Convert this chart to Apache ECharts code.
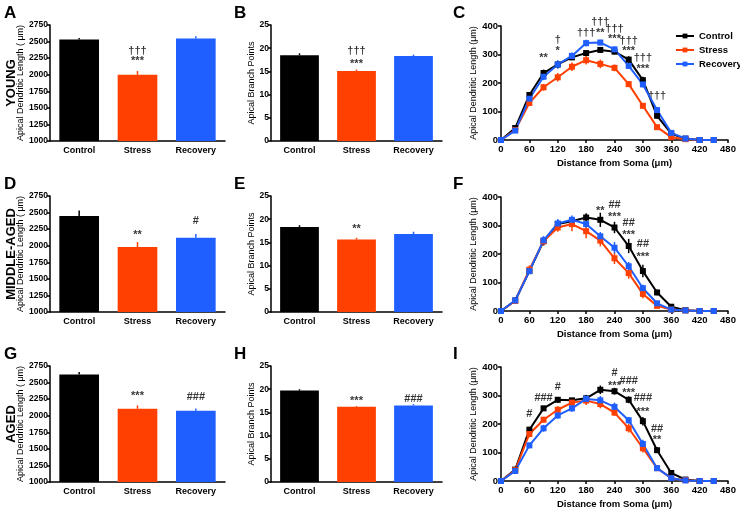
<!DOCTYPE html>
<html>
<head>
<meta charset="UTF-8">
<title>Apical dendritic length by age</title>
<script src="https://cdn.jsdelivr.net/npm/echarts@6/dist/echarts.min.js"></script>
<style>
  body { margin: 0; background: #fff; }
  #main { width: 740px; height: 510px; }
</style>
</head>
<body>
<div id="main"></div>
<script>
// ---- data ----
var barCats = ['Control', 'Stress', 'Recovery'];
var groupNames = ['Control', 'Stress', 'Recovery'];
var rowNames = ['YOUNG', 'MIDDLE-AGED', 'AGED'];

// total apical dendritic length (um)
var youngLen = [2530, 2000, 2545];
var youngLenErr = [25, 55, 35];
var middleLen = [2450, 1980, 2120];
var middleLenErr = [80, 75, 55];
var agedLen = [2620, 2105, 2075];
var agedLenErr = [40, 50, 35];

// apical branch points
var youngBranch = [18.5, 15.1, 18.3];
var youngBranchErr = [0.4, 0.3, 0.3];
var middleBranch = [18.3, 15.6, 16.8];
var middleBranchErr = [0.4, 0.4, 0.5];
var agedBranch = [19.7, 16.2, 16.5];
var agedBranchErr = [0.3, 0.2, 0.3];

// sholl profile, distance from soma (um)
var dist = [0, 30, 60, 90, 120, 150, 180, 210, 240, 270, 300, 330, 360, 390, 420, 450];

var youngCtrl = [0, 42, 158, 235, 265, 290, 305, 316, 310, 282, 210, 85, 22, 5, 0, 0];
var youngStress = [0, 35, 130, 185, 220, 257, 280, 267, 253, 196, 120, 45, 10, 3, 0, 0];
var youngRecov = [0, 33, 145, 222, 265, 295, 340, 342, 318, 260, 195, 105, 25, 5, 0, 0];
var youngCtrlErr = [0, 5, 10, 12, 12, 10, 10, 10, 10, 12, 12, 10, 5, 2, 0, 0];
var youngStressErr = [0, 4, 10, 12, 15, 15, 15, 15, 12, 10, 10, 6, 3, 2, 0, 0];
var youngRecovErr = [0, 4, 10, 12, 15, 12, 12, 10, 10, 10, 10, 10, 5, 2, 0, 0];

var middleCtrl = [0, 37, 140, 245, 305, 315, 328, 320, 293, 228, 140, 65, 15, 3, 0, 0];
var middleStress = [0, 35, 145, 245, 293, 305, 280, 247, 185, 133, 60, 18, 5, 2, 0, 0];
var middleRecov = [0, 37, 140, 248, 307, 320, 305, 262, 222, 157, 80, 27, 5, 2, 0, 0];
var middleCtrlErr = [0, 5, 10, 15, 15, 15, 15, 25, 20, 25, 22, 10, 5, 2, 0, 0];
var middleStressErr = [0, 5, 15, 15, 15, 25, 25, 20, 20, 20, 15, 8, 4, 2, 0, 0];
var middleRecovErr = [0, 5, 10, 15, 15, 15, 12, 15, 20, 15, 12, 8, 4, 2, 0, 0];

var agedCtrl = [0, 40, 180, 255, 285, 283, 290, 320, 315, 285, 210, 108, 28, 5, 0, 0];
var agedStress = [0, 38, 165, 215, 250, 275, 282, 270, 240, 185, 115, 45, 10, 3, 0, 0];
var agedRecov = [0, 35, 125, 185, 230, 255, 288, 283, 260, 213, 130, 45, 10, 2, 0, 0];
var agedCtrlErr = [0, 5, 10, 8, 10, 8, 12, 15, 12, 12, 15, 10, 5, 2, 0, 0];
var agedStressErr = [0, 5, 12, 10, 12, 12, 15, 15, 12, 15, 15, 8, 4, 2, 0, 0];
var agedRecovErr = [0, 5, 10, 12, 12, 12, 15, 15, 15, 12, 15, 10, 4, 2, 0, 0];

// significance marks: [x, y, text]
var notesA = [[1, 2360, '†††'], [1, 2200, '***']];
var notesB = [[1, 19.3, '†††'], [1, 16.6, '***']];
var notesC = [[90, 288, '**'], [120, 351, '†'], [120, 312, '*'], [180, 377, '†††'], [210, 415, '†††'],
  [210, 376, '**'], [240, 390, '†††'], [240, 355, '***'], [270, 347, '†††'], [270, 312, '***'],
  [300, 289, '†††'], [300, 250, '***'], [330, 154, '†††']];
var notesD = [[1, 2155, '**'], [2, 2368, '#']];
var notesE = [[1, 17.8, '**']];
var notesF = [[210, 352, '**'], [240, 373, '##'], [240, 329, '***'], [270, 310, '##'], [270, 267, '***'],
  [300, 234, '##'], [300, 191, '***']];
var notesG = [[1, 2300, '***'], [2, 2290, '###']];
var notesH = [[1, 17.4, '***'], [2, 17.9, '###']];
var notesI = [[60, 236, '#'], [90, 290, '###'], [120, 331, '#'], [240, 378, '#'], [240, 335, '***'],
  [270, 351, '###'], [270, 309, '***'], [300, 291, '###'], [300, 243, '***'], [330, 184, '##'], [330, 144, '**']];

// ---- chart ----
var FONT = 'Liberation Sans, Arial, sans-serif';
var colors = ['#000000', '#ff4000', '#1f5fff'];
var axisLine = { show: true, lineStyle: { color: '#000', width: 1.5 } };

var grids = [], xAxes = [], yAxes = [], series = [];

function errRender(params, api) {
  var p1 = api.coord([api.value(0), api.value(1)]);
  var p2 = api.coord([api.value(0), api.value(2)]);
  return {
    type: 'line',
    shape: { x1: p1[0], y1: p1[1], x2: p2[0], y2: p2[1] },
    style: { stroke: colors[api.value(3)], lineWidth: 1.5 }
  };
}

function addNotes(idx, notes) {
  series.push({
    type: 'scatter', xAxisIndex: idx, yAxisIndex: idx, silent: true, clip: false,
    symbolSize: 1, itemStyle: { color: 'rgba(0,0,0,0)' },
    label: {
      show: true, position: 'inside', color: '#000', fontSize: 11, fontWeight: 'bold', fontFamily: FONT,
      formatter: function (p) { return p.value[2]; }
    },
    data: notes
  });
}

function addBarPanel(left, top, width, yMin, yMax, yStep, yName, nameGap, vals, errs, notes) {
  var idx = grids.length;
  grids.push({ left: left, top: top, width: width, height: 116 });
  xAxes.push({
    gridIndex: idx, type: 'category', data: barCats,
    axisLine: axisLine, axisTick: { show: false },
    axisLabel: { color: '#000', fontSize: 9, fontWeight: 'bold', fontFamily: FONT, margin: 5 }
  });
  yAxes.push({
    gridIndex: idx, type: 'value', min: yMin, max: yMax, interval: yStep,
    name: yName, nameLocation: 'middle', nameGap: nameGap,
    nameTextStyle: { color: '#000', fontSize: 9, fontFamily: FONT },
    axisLine: axisLine, axisTick: { show: true, length: 3, lineStyle: { color: '#000', width: 1.5 } },
    axisLabel: { color: '#000', fontSize: 8.5, fontWeight: 'bold', fontFamily: FONT, margin: 2,
      formatter: function (v) { return String(v); } },
    splitLine: { show: false }
  });
  series.push({
    type: 'bar', xAxisIndex: idx, yAxisIndex: idx, barWidth: '68%', silent: true,
    data: vals.map(function (v, i) { return { value: v, itemStyle: { color: colors[i] } }; })
  });
  series.push({
    type: 'custom', xAxisIndex: idx, yAxisIndex: idx, silent: true,
    renderItem: errRender, encode: { x: 0, y: [1, 2] },
    data: vals.map(function (v, i) { return [i, v, v + errs[i], i]; })
  });
  addNotes(idx, notes);
  return idx;
}

// empty left axis that only carries the row title (added after the panels)
function addRowTitle(gridIdx, title) {
  yAxes.push({
    gridIndex: gridIdx, type: 'value', position: 'left', min: 0, max: 1,
    name: title, nameLocation: 'middle', nameGap: 32,
    nameTextStyle: { color: '#000', fontSize: 13, fontWeight: 'bold', fontFamily: FONT },
    axisLine: { show: false }, axisTick: { show: false }, axisLabel: { show: false },
    splitLine: { show: false }
  });
}

function addLinePanel(top, lines, errs, notes) {
  var idx = grids.length;
  grids.push({ left: 501, top: top, width: 227, height: 114 });
  xAxes.push({
    gridIndex: idx, type: 'value', min: 0, max: 480, interval: 60,
    name: 'Distance from Soma (\u03bcm)', nameLocation: 'middle', nameGap: 18,
    nameTextStyle: { color: '#000', fontSize: 9.5, fontWeight: 'bold', fontFamily: FONT },
    axisLine: axisLine, axisTick: { show: true, length: 3, lineStyle: { color: '#000', width: 1.5 } },
    axisLabel: { color: '#000', fontSize: 9.5, fontWeight: 'bold', fontFamily: FONT, margin: 4 },
    splitLine: { show: false }
  });
  yAxes.push({
    gridIndex: idx, type: 'value', min: 0, max: 400, interval: 100,
    name: 'Apical Dendritic Length (\u03bcm)', nameLocation: 'middle', nameGap: 23,
    nameTextStyle: { color: '#000', fontSize: 9, fontFamily: FONT },
    axisLine: axisLine, axisTick: { show: true, length: 3, lineStyle: { color: '#000', width: 1.5 } },
    axisLabel: { color: '#000', fontSize: 9.5, fontWeight: 'bold', fontFamily: FONT, margin: 3 },
    splitLine: { show: false }
  });
  lines.forEach(function (vals, k) {
    series.push({
      type: 'custom', xAxisIndex: idx, yAxisIndex: idx, silent: true,
      renderItem: errRender, encode: { x: 0, y: [1, 2] },
      data: vals.map(function (v, i) { return [dist[i], v - errs[k][i], v + errs[k][i], k]; })
    });
  });
  lines.forEach(function (vals, k) {
    series.push({
      type: 'line', name: groupNames[k], xAxisIndex: idx, yAxisIndex: idx, silent: true,
      symbol: 'rect', symbolSize: 6, showSymbol: true,
      lineStyle: { color: colors[k], width: 2 }, itemStyle: { color: colors[k] },
      data: vals.map(function (v, i) { return [dist[i], v]; })
    });
  });
  addNotes(idx, notes);
}

var rowTops = [25, 196, 366];
var lenName = 'Apical Dendritic Length ( \u03bcm)';
var firstCols = [];

firstCols.push(addBarPanel(50, rowTops[0], 175, 1000, 2750, 250, lenName, 24, youngLen, youngLenErr, notesA));
addBarPanel(271, rowTops[0], 171, 0, 25, 5, 'Apical Branch Points', 15, youngBranch, youngBranchErr, notesB);
addLinePanel(rowTops[0] + 1, [youngCtrl, youngStress, youngRecov], [youngCtrlErr, youngStressErr, youngRecovErr], notesC);

firstCols.push(addBarPanel(50, rowTops[1], 175, 1000, 2750, 250, lenName, 24, middleLen, middleLenErr, notesD));
addBarPanel(271, rowTops[1], 171, 0, 25, 5, 'Apical Branch Points', 15, middleBranch, middleBranchErr, notesE);
addLinePanel(rowTops[1] + 1, [middleCtrl, middleStress, middleRecov], [middleCtrlErr, middleStressErr, middleRecovErr], notesF);

firstCols.push(addBarPanel(50, rowTops[2], 175, 1000, 2750, 250, lenName, 24, agedLen, agedLenErr, notesG));
addBarPanel(271, rowTops[2], 171, 0, 25, 5, 'Apical Branch Points', 15, agedBranch, agedBranchErr, notesH);
addLinePanel(rowTops[2] + 1, [agedCtrl, agedStress, agedRecov], [agedCtrlErr, agedStressErr, agedRecovErr], notesI);

firstCols.forEach(function (g, i) { addRowTitle(g, rowNames[i]); });

// panel letters
var texts = [];
var letters = ['A', 'B', 'C', 'D', 'E', 'F', 'G', 'H', 'I'];
var letterX = [4, 234, 453];
var letterY = [5, 176, 346];
letters.forEach(function (l, i) {
  texts.push({
    type: 'text', left: letterX[i % 3], top: letterY[Math.floor(i / 3)],
    style: { text: l, fontSize: 17, fontWeight: 'bold', fontFamily: FONT, fill: '#000' }
  });
});

var myChart = echarts.init(document.getElementById('main'));
var option = {
  animation: false,
  backgroundColor: '#fff',
  textStyle: { fontFamily: FONT },
  grid: grids,
  xAxis: xAxes,
  yAxis: yAxes,
  legend: {
    data: groupNames, orient: 'vertical', left: 670, top: 26, itemGap: 4,
    itemWidth: 18, itemHeight: 6,
    textStyle: { color: '#000', fontSize: 9.5, fontWeight: 'bold', fontFamily: FONT }
  },
  graphic: texts,
  series: series
};
myChart.setOption(option);
</script>
</body>
</html>
